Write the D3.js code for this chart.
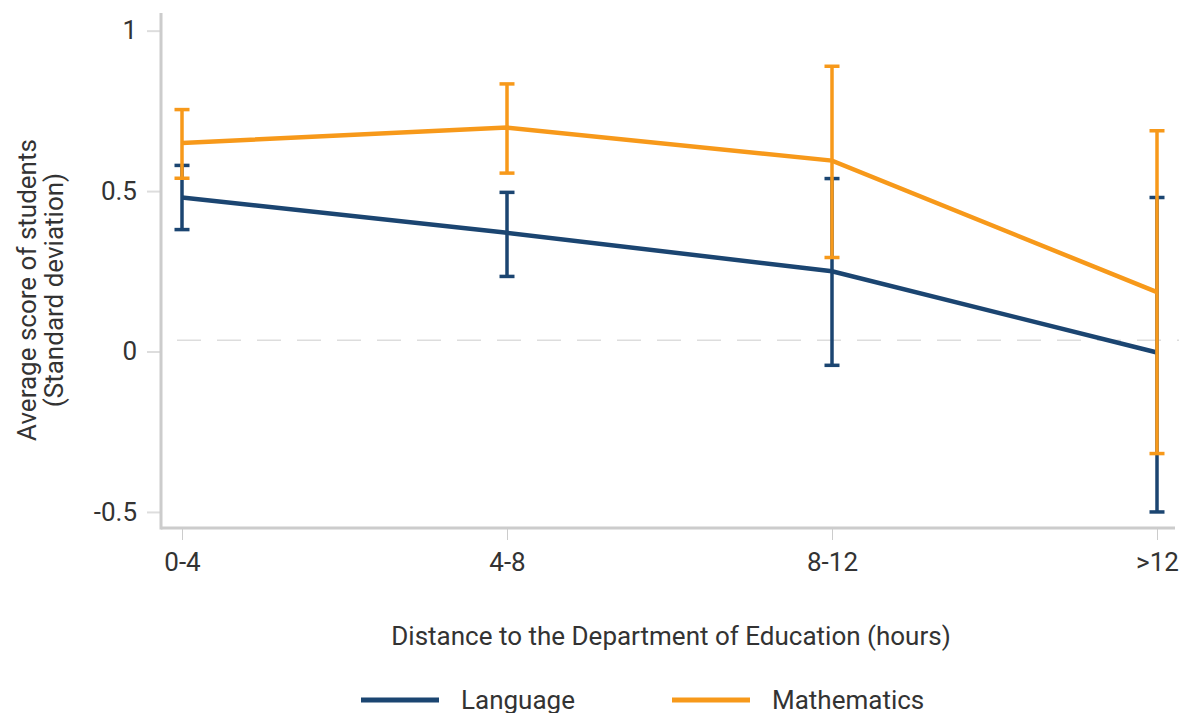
<!DOCTYPE html>
<html>
<head>
<meta charset="utf-8">
<script src="https://cdn.jsdelivr.net/npm/d3@7"></script>
<style>
  body { margin: 0; background: #fff; }
  svg text { font-family: Roboto, 'Noto Sans', sans-serif; fill: #333; }
</style>
</head>
<body>
<div class="container"></div>
<script>
// data
var categories = ['0-4', '4-8', '8-12', '>12']
var yTicks = [-0.5, 0, 0.5, 1]

var languageMean = [0.48, 0.37, 0.25, -0.003]
var languageLow = [0.38, 0.234, -0.043, -0.50]
var languageHigh = [0.58, 0.496, 0.539, 0.48]

var mathMean = [0.65, 0.698, 0.595, 0.185]
var mathLow = [0.54, 0.556, 0.293, -0.318]
var mathHigh = [0.754, 0.834, 0.889, 0.688]

var refValue = 0.035

var series = [
  { name: 'Language', color: '#1b4571', mean: languageMean, low: languageLow, high: languageHigh },
  { name: 'Mathematics', color: '#f7991a', mean: mathMean, low: mathLow, high: mathHigh }
]

var width = 1179
var height = 713
var plot = { left: 161, right: 1175, top: 13, bottom: 528 }

var svg = d3.select('.container')
            .append('svg')
            .attr('width', width)
            .attr('height', height)

var xScale = d3.scalePoint()
               .domain(categories)
               .range([182, 1157])

var yScale = d3.scaleLinear()
               .domain([-0.55, 1.055])
               .range([plot.bottom, plot.top])

// y axis
var yAxis = svg.append('g')
               .attr('class', 'y')
               .attr('transform', 'translate(' + (plot.left - 1) + ',0)')
               .call(d3.axisLeft(yScale)
                       .tickValues(yTicks)
                       .tickFormat(function (d) { return String(d) })
                       .tickSize(13)
                       .tickPadding(10))
yAxis.select('.domain').remove()
yAxis.selectAll('.tick line').attr('stroke', '#ddd').attr('stroke-width', 2)
yAxis.selectAll('.tick text').style('font-size', '26px').attr('fill', '#333')

// x axis
var xAxis = svg.append('g')
               .attr('class', 'x')
               .attr('transform', 'translate(0,' + plot.bottom + ')')
               .call(d3.axisBottom(xScale)
                       .tickSize(12)
                       .tickPadding(13))
xAxis.select('.domain').remove()
xAxis.selectAll('.tick line').attr('stroke', '#ccc').attr('stroke-width', 1)
xAxis.selectAll('.tick text').style('font-size', '26px').attr('fill', '#333')

// spines
svg.append('line')
   .attr('x1', plot.left).attr('x2', plot.left)
   .attr('y1', plot.top).attr('y2', plot.bottom + 1.5)
   .attr('stroke', '#ccc').attr('stroke-width', 3)
svg.append('line')
   .attr('x1', plot.left).attr('x2', plot.right)
   .attr('y1', plot.bottom).attr('y2', plot.bottom)
   .attr('stroke', '#ccc').attr('stroke-width', 3)

// dashed reference line
svg.append('line')
   .attr('x1', plot.left + 4).attr('x2', width)
   .attr('y1', yScale(refValue)).attr('y2', yScale(refValue))
   .attr('stroke', '#ddd').attr('stroke-width', 1.5)
   .attr('stroke-dasharray', '24,16')
   .attr('stroke-dashoffset', 28)

var valueline = d3.line()
                  .x(function (d, i) { return xScale(categories[i]) })
                  .y(function (d) { return yScale(d) })

var chart = svg.selectAll('.series')
               .data(series)
               .enter()
               .append('g')
               .attr('class', 'series')

chart.append('path')
     .attr('d', function (d) { return valueline(d.mean) })
     .attr('fill', 'none')
     .attr('stroke', function (d) { return d.color })
     .attr('stroke-width', 4.5)

var bars = chart.selectAll('.err')
                .data(function (s) {
                  return categories.map(function (c, i) {
                    return { cat: c, low: s.low[i], high: s.high[i], color: s.color }
                  })
                })
                .enter()
                .append('g')
                .attr('class', 'err')
                .attr('stroke', function (d) { return d.color })
                .attr('stroke-width', 3.5)

bars.append('line')
    .attr('x1', function (d) { return xScale(d.cat) })
    .attr('x2', function (d) { return xScale(d.cat) })
    .attr('y1', function (d) { return yScale(d.low) })
    .attr('y2', function (d) { return yScale(d.high) })
bars.selectAll('.cap')
    .data(function (d) { return [d.low, d.high].map(function (v) { return { cat: d.cat, v: v } }) })
    .enter()
    .append('line')
    .attr('class', 'cap')
    .attr('x1', function (d) { return xScale(d.cat) - 7.5 })
    .attr('x2', function (d) { return xScale(d.cat) + 7.5 })
    .attr('y1', function (d) { return yScale(d.v) })
    .attr('y2', function (d) { return yScale(d.v) })

// axis titles
svg.append('text')
   .attr('x', 671)
   .attr('y', 645)
   .attr('text-anchor', 'middle')
   .style('font-size', '26px')
   .text('Distance to the Department of Education (hours)')

var yTitle = svg.append('text')
                .attr('transform', 'translate(36,290) rotate(-90)')
                .attr('text-anchor', 'middle')
                .style('font-size', '26px')
yTitle.append('tspan').attr('x', 0).attr('dy', 0).text('Average score of students')
yTitle.append('tspan').attr('x', 0).attr('dy', 27).text('(Standard deviation)')

// legend
var legend = svg.selectAll('.legendItem')
                .data(series)
                .enter()
                .append('g')
                .attr('class', 'legendItem')
                .attr('transform', function (d, i) {
                  return 'translate(' + (361 + i * 311) + ',700)'
                })
legend.append('line')
      .attr('x1', 0).attr('x2', 78)
      .attr('stroke', function (d) { return d.color })
      .attr('stroke-width', 5)
legend.append('text')
      .attr('x', 100)
      .attr('y', 9)
      .style('font-size', '26px')
      .text(function (d) { return d.name })
</script>
</body>
</html>
